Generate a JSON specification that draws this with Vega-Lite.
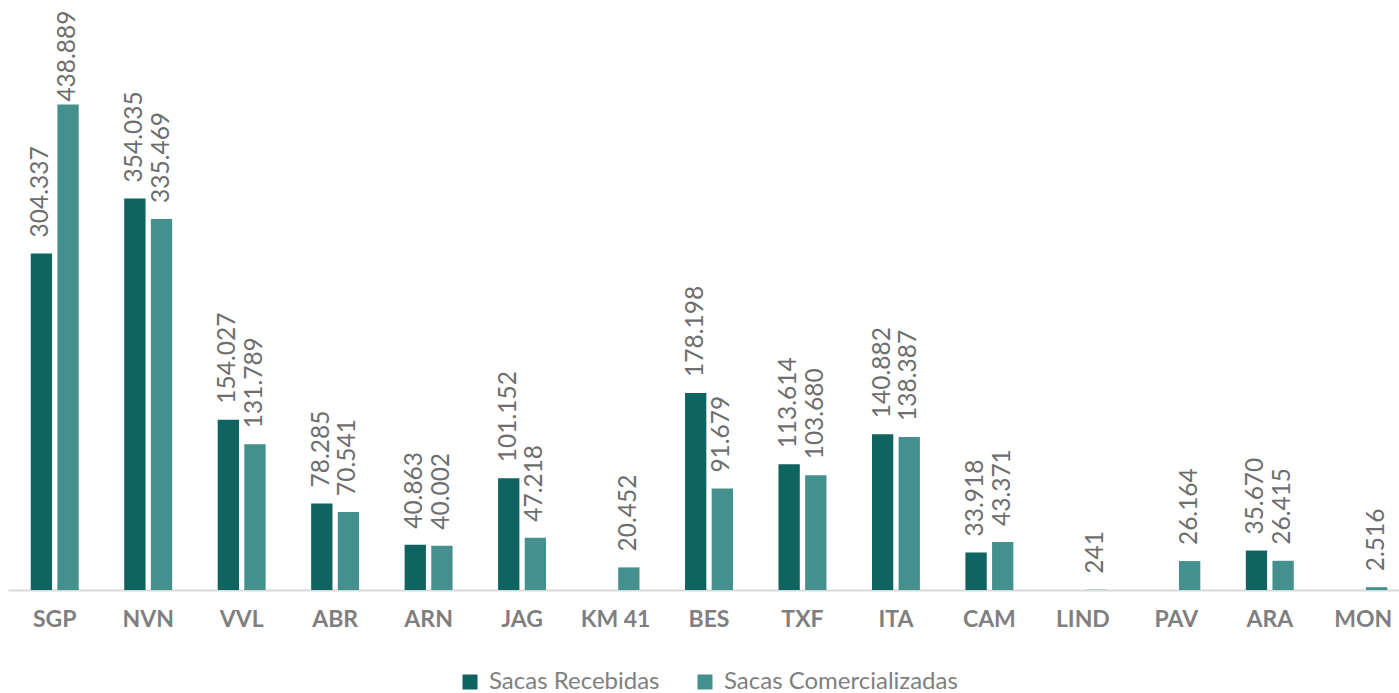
{
  "$schema": "https://vega.github.io/schema/vega-lite/v6.json",
  "width": 1402,
  "height": 553,
  "autosize": {"type": "none"},
  "padding": {"left": 8, "top": 37, "right": 0, "bottom": 103},
  "background": "white",
  "data": {
    "values": [
      {"site": "SGP", "serie": "Sacas Recebidas", "valor": 304337},
      {"site": "SGP", "serie": "Sacas Comercializadas", "valor": 438889},
      {"site": "NVN", "serie": "Sacas Recebidas", "valor": 354035},
      {"site": "NVN", "serie": "Sacas Comercializadas", "valor": 335469},
      {"site": "VVL", "serie": "Sacas Recebidas", "valor": 154027},
      {"site": "VVL", "serie": "Sacas Comercializadas", "valor": 131789},
      {"site": "ABR", "serie": "Sacas Recebidas", "valor": 78285},
      {"site": "ABR", "serie": "Sacas Comercializadas", "valor": 70541},
      {"site": "ARN", "serie": "Sacas Recebidas", "valor": 40863},
      {"site": "ARN", "serie": "Sacas Comercializadas", "valor": 40002},
      {"site": "JAG", "serie": "Sacas Recebidas", "valor": 101152},
      {"site": "JAG", "serie": "Sacas Comercializadas", "valor": 47218},
      {"site": "KM 41", "serie": "Sacas Comercializadas", "valor": 20452},
      {"site": "BES", "serie": "Sacas Recebidas", "valor": 178198},
      {"site": "BES", "serie": "Sacas Comercializadas", "valor": 91679},
      {"site": "TXF", "serie": "Sacas Recebidas", "valor": 113614},
      {"site": "TXF", "serie": "Sacas Comercializadas", "valor": 103680},
      {"site": "ITA", "serie": "Sacas Recebidas", "valor": 140882},
      {"site": "ITA", "serie": "Sacas Comercializadas", "valor": 138387},
      {"site": "CAM", "serie": "Sacas Recebidas", "valor": 33918},
      {"site": "CAM", "serie": "Sacas Comercializadas", "valor": 43371},
      {"site": "LIND", "serie": "Sacas Comercializadas", "valor": 241},
      {"site": "PAV", "serie": "Sacas Comercializadas", "valor": 26164},
      {"site": "ARA", "serie": "Sacas Recebidas", "valor": 35670},
      {"site": "ARA", "serie": "Sacas Comercializadas", "valor": 26415},
      {"site": "MON", "serie": "Sacas Comercializadas", "valor": 2516}
    ]
  },
  "encoding": {
    "x": {
      "field": "site",
      "type": "nominal",
      "sort": ["SGP", "NVN", "VVL", "ABR", "ARN", "JAG", "KM 41", "BES", "TXF", "ITA", "CAM", "LIND", "PAV", "ARA", "MON"],
      "scale": {"paddingInner": 0.487, "paddingOuter": 0.2435},
      "axis": {
        "title": null,
        "labelAngle": 0,
        "labelFont": "Lato",
        "labelFontSize": 23,
        "labelFontWeight": "bold",
        "labelColor": "#7f7f7f",
        "ticks": false,
        "domainColor": "#d9d9d9",
        "domainWidth": 2,
        "labelPadding": 18
      }
    },
    "xOffset": {
      "field": "serie",
      "type": "nominal",
      "scale": {"domain": ["Sacas Recebidas", "Sacas Comercializadas"], "paddingInner": 0.2}
    },
    "y": {
      "field": "valor",
      "type": "quantitative",
      "scale": {"domain": [0, 500000]},
      "axis": null
    }
  },
  "layer": [
    {
      "mark": {"type": "bar"},
      "encoding": {
        "color": {
          "field": "serie",
          "type": "nominal",
          "scale": {"domain": ["Sacas Recebidas", "Sacas Comercializadas"], "range": ["#0f6360", "#43908e"]},
          "legend": {
            "title": null,
            "orient": "none",
            "direction": "horizontal",
            "legendX": 450,
            "legendY": 633,
            "symbolType": "square",
            "symbolSize": 225,
            "symbolStrokeWidth": 0,
            "symbolOpacity": 1,
            "labelFont": "Lato",
            "labelFontSize": 24,
            "labelColor": "#7f7f7f",
            "labelLimit": 400,
            "labelOffset": 7,
            "columnPadding": 33
          }
        }
      }
    },
    {
      "transform": [{"filter": "datum.valor < 400000"}],
      "mark": {"type": "text", "angle": 270, "align": "left", "baseline": "middle", "dx": 16, "font": "Lato", "fontSize": 24.5, "color": "#6e6e6e"},
      "encoding": {
        "text": {"field": "valor", "type": "quantitative", "format": ",d"}
      }
    },
    {
      "transform": [{"filter": "datum.valor >= 400000"}],
      "mark": {"type": "text", "angle": 270, "align": "left", "baseline": "middle", "dx": 3, "font": "Lato", "fontSize": 24.5, "color": "#6e6e6e"},
      "encoding": {
        "text": {"field": "valor", "type": "quantitative", "format": ",d"}
      }
    }
  ],
  "config": {
    "view": {"stroke": null},
    "locale": {"number": {"decimal": ",", "thousands": ".", "grouping": [3], "currency": ["", ""]}}
  }
}
